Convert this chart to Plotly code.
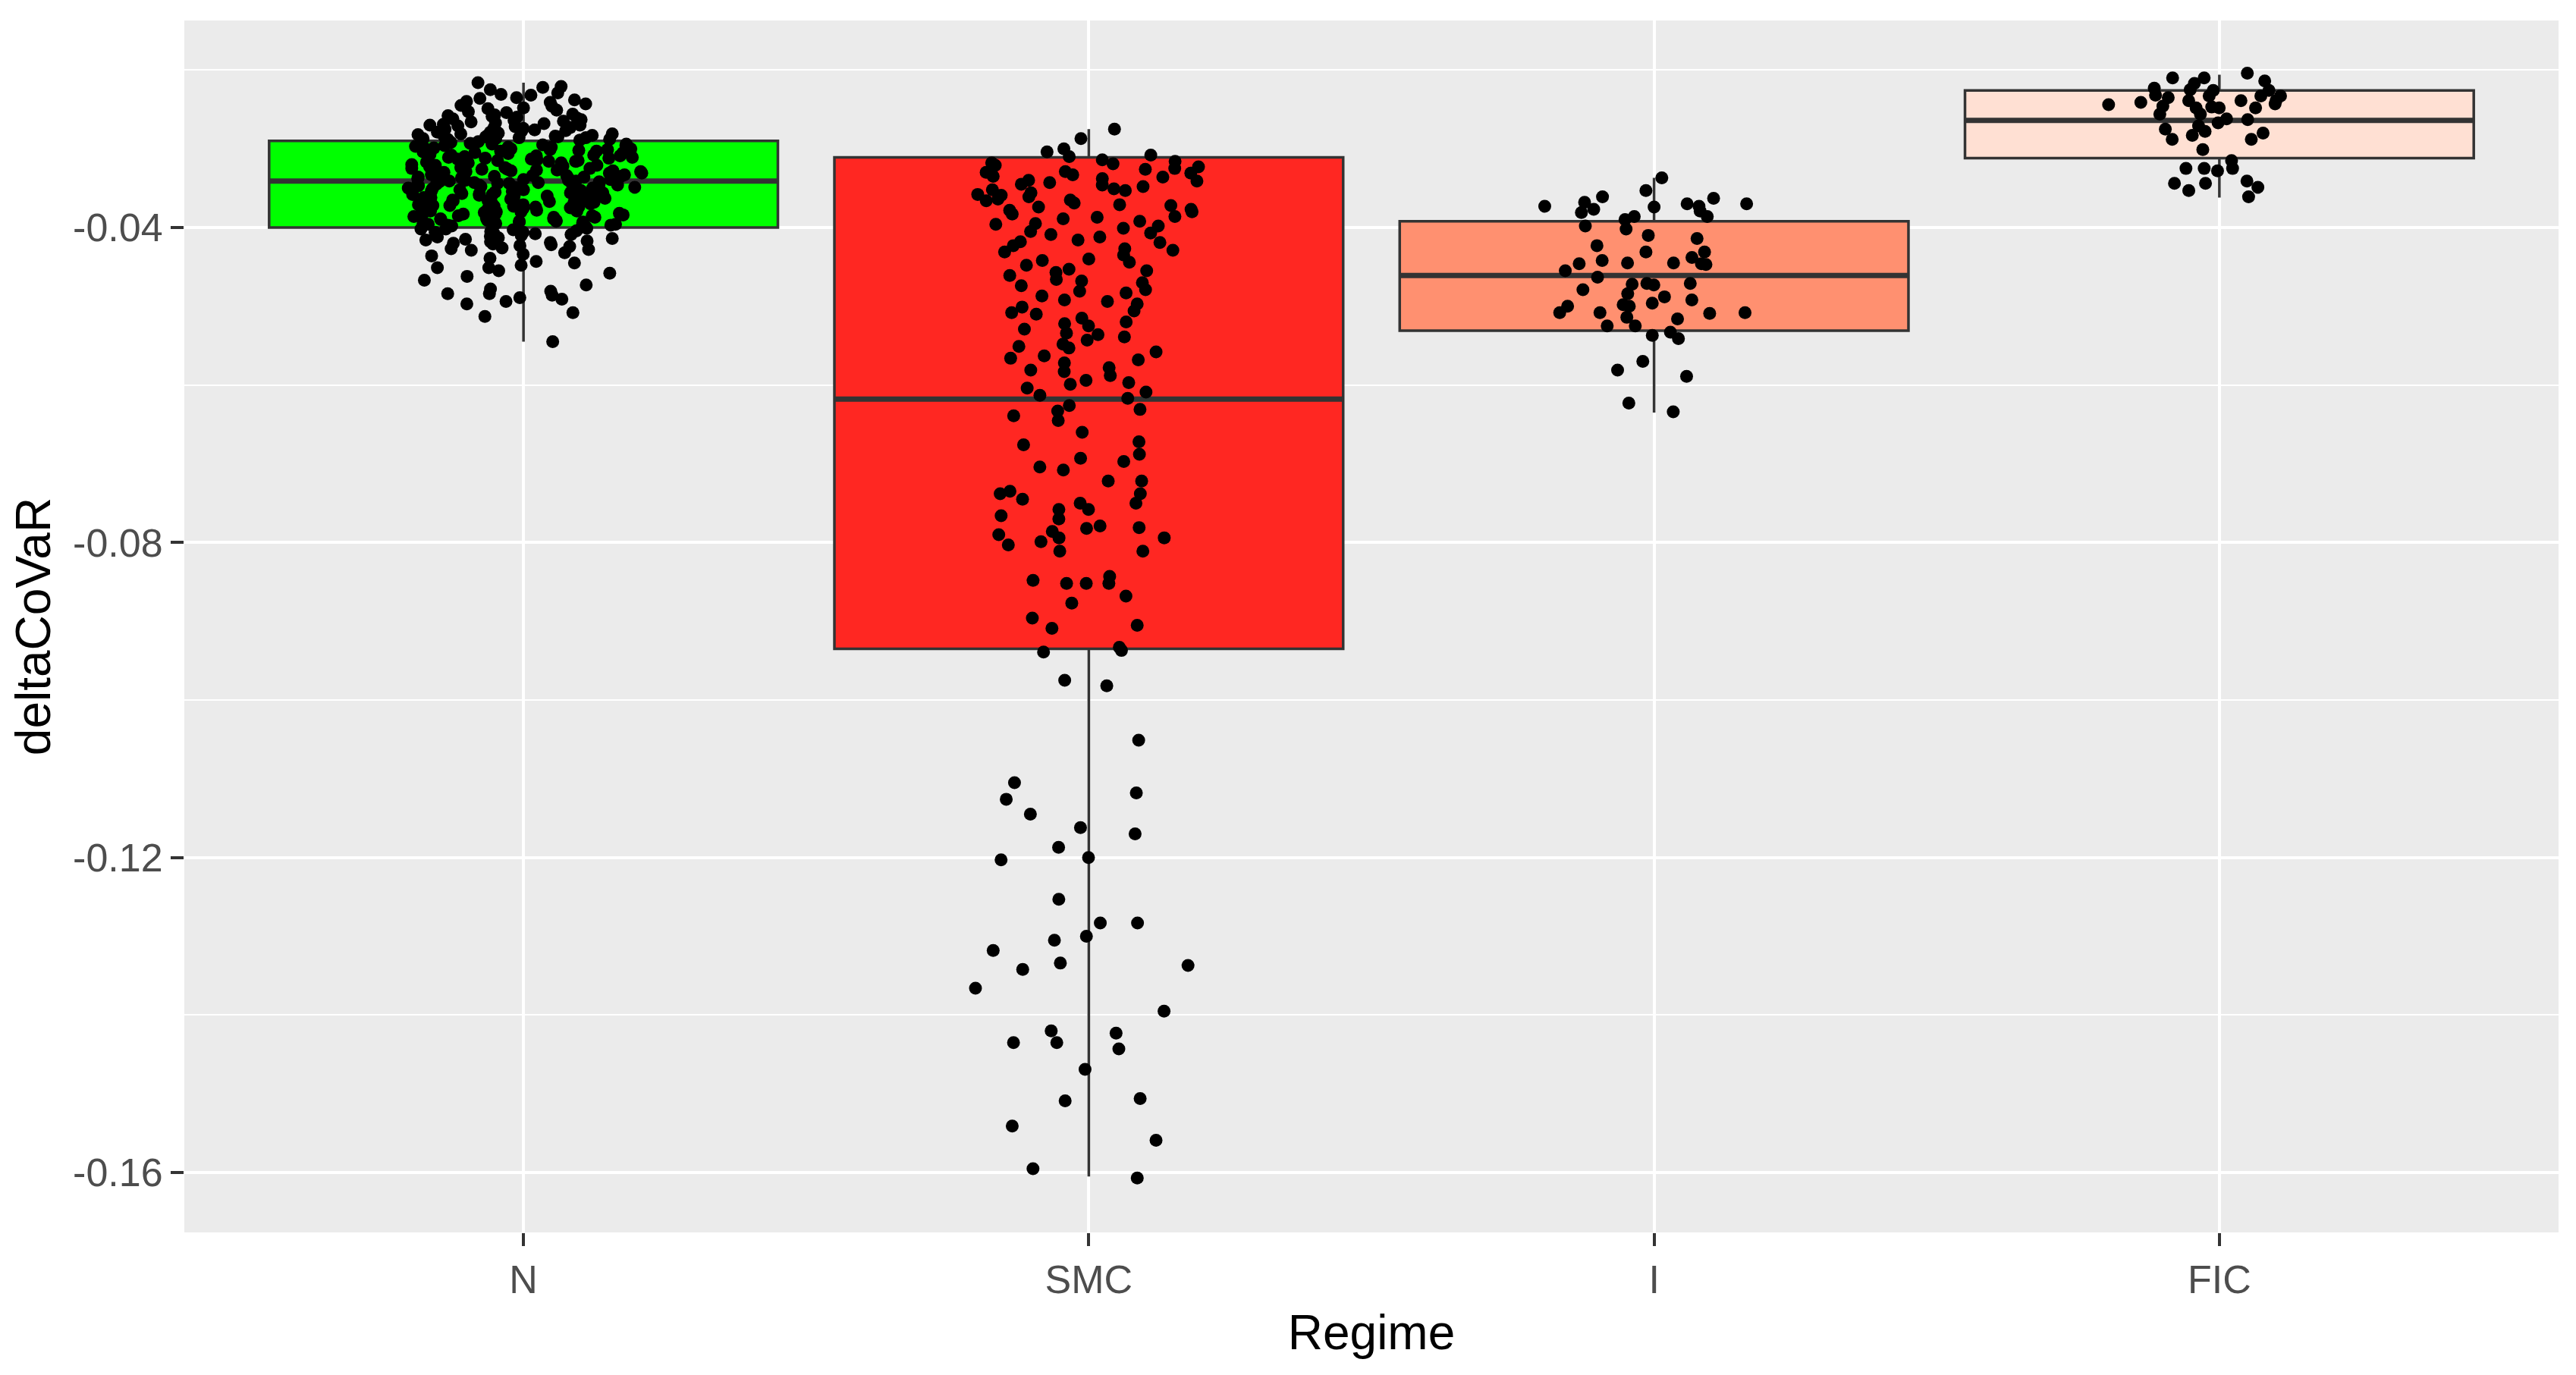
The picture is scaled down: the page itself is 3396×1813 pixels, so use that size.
import plotly.graph_objects as go

# ---------------- data ----------------
categories = ["N", "SMC", "I", "FIC"]

# precomputed box statistics
box_q1 = [-0.0400, -0.0935, -0.0531, -0.0312]
box_median = [-0.0341, -0.0618, -0.0461, -0.0264]
box_q3 = [-0.0290, -0.0311, -0.0392, -0.0226]
box_lower_whisker = [-0.0545, -0.1605, -0.0635, -0.0362]
box_upper_whisker = [-0.0216, -0.0275, -0.0337, -0.0206]

# jittered observations, grouped by regime (and by density band)
n_upper = [-0.0216, -0.0222, -0.0221, -0.0225, -0.0229, -0.0232, -0.0231, -0.0236, -0.0238,
           -0.0235, -0.0241, -0.0243, -0.0240, -0.0246, -0.0248, -0.0245, -0.0251, -0.0249,
           -0.0253, -0.0256, -0.0254, -0.0258, -0.0257, -0.0261, -0.0263, -0.0260, -0.0265,
           -0.0264, -0.0268, -0.0267, -0.0270, -0.0272, -0.0269, -0.0274, -0.0273, -0.0276,
           -0.0278, -0.0275, -0.0279, -0.0281, -0.0280, -0.0283, -0.0282, -0.0285, -0.0284,
           -0.0286, -0.0288, -0.0287, -0.0289, -0.0277, -0.0271, -0.0262, -0.0283, -0.0286,
           -0.0266, -0.0273, -0.0279, -0.0284, -0.0287, -0.0259, -0.0270, -0.0281, -0.0288,
           -0.0276, -0.0268, -0.0285]
n_box = [-0.0291, -0.0294, -0.0292, -0.0297, -0.0299, -0.0296, -0.0302, -0.0298, -0.0305,
         -0.0303, -0.0301, -0.0308, -0.0306, -0.0311, -0.0309, -0.0304, -0.0313, -0.0316,
         -0.0312, -0.0318, -0.0315, -0.0321, -0.0319, -0.0324, -0.0322, -0.0317, -0.0327,
         -0.0325, -0.0329, -0.0323, -0.0332, -0.0330, -0.0335, -0.0328, -0.0337, -0.0334,
         -0.0340, -0.0338, -0.0333, -0.0343, -0.0341, -0.0346, -0.0339, -0.0348, -0.0344,
         -0.0351, -0.0349, -0.0342, -0.0354, -0.0352, -0.0347, -0.0357, -0.0355, -0.0360,
         -0.0353, -0.0362, -0.0358, -0.0365, -0.0363, -0.0356, -0.0368, -0.0366, -0.0371,
         -0.0364, -0.0373, -0.0369, -0.0376, -0.0374, -0.0367, -0.0379, -0.0377, -0.0382,
         -0.0375, -0.0384, -0.0380, -0.0387, -0.0385, -0.0378, -0.0390, -0.0388, -0.0393,
         -0.0386, -0.0395, -0.0391, -0.0398, -0.0396, -0.0389, -0.0399, -0.0294, -0.0307,
         -0.0314, -0.0326, -0.0331, -0.0345, -0.0350, -0.0361, -0.0370, -0.0383, -0.0392,
         -0.0397, -0.0300, -0.0320, -0.0336, -0.0359, -0.0372, -0.0381, -0.0310, -0.0343,
         -0.0366, -0.0394, -0.0295, -0.0329, -0.0352, -0.0378]
n_core = [-0.0293, -0.0298, -0.0303, -0.0306, -0.0311, -0.0315, -0.0319, -0.0324, -0.0327,
          -0.0331, -0.0334, -0.0339, -0.0342, -0.0347, -0.0350, -0.0354, -0.0358, -0.0361,
          -0.0365, -0.0369, -0.0372, -0.0376, -0.0380, -0.0383, -0.0387, -0.0391, -0.0394,
          -0.0398, -0.0296, -0.0301, -0.0309, -0.0313, -0.0318, -0.0322, -0.0326, -0.0333,
          -0.0337, -0.0341, -0.0345, -0.0349, -0.0353, -0.0356, -0.0362, -0.0366, -0.0371,
          -0.0374, -0.0379, -0.0384, -0.0389, -0.0393, -0.0397, -0.0292, -0.0305, -0.0316,
          -0.0325, -0.0336, -0.0344, -0.0357, -0.0364, -0.0375, -0.0386, -0.0396, -0.0299,
          -0.0312, -0.0328, -0.0340, -0.0351, -0.0363, -0.0373, -0.0382, -0.0390, -0.0300,
          -0.0321, -0.0335, -0.0348, -0.0360, -0.0368, -0.0385, -0.0395, -0.0308, -0.0330,
          -0.0346, -0.0377, -0.0392]
n_lower = [-0.0401, -0.0403, -0.0402, -0.0405, -0.0404, -0.0407, -0.0406, -0.0409, -0.0408,
           -0.0411, -0.0413, -0.0410, -0.0415, -0.0414, -0.0418, -0.0416, -0.0419, -0.0421,
           -0.0423, -0.0420, -0.0426, -0.0424, -0.0429, -0.0427, -0.0432, -0.0402, -0.0406,
           -0.0412, -0.0417, -0.0422, -0.0428]
n_tail = [-0.0436, -0.0434, -0.0439, -0.0443, -0.0445, -0.0448, -0.0451, -0.0451, -0.0455,
          -0.0458, -0.0462, -0.0467, -0.0473, -0.0478, -0.0481, -0.0484, -0.0484, -0.0486,
          -0.0489, -0.0491, -0.0494, -0.0497, -0.0508, -0.0513, -0.0545]

smc_upper = [-0.0275, -0.0287, -0.0300, -0.0304, -0.0308, -0.0310,
             -0.0314, -0.0316, -0.0319, -0.0321, -0.0318, -0.0323, -0.0326, -0.0325, -0.0329,
             -0.0331, -0.0333, -0.0330, -0.0336, -0.0338, -0.0335, -0.0341, -0.0343, -0.0340,
             -0.0346, -0.0348, -0.0345, -0.0351, -0.0353, -0.0356, -0.0352, -0.0358, -0.0361,
             -0.0359, -0.0364, -0.0366, -0.0369, -0.0365, -0.0372, -0.0374, -0.0371, -0.0377,
             -0.0380, -0.0383, -0.0378, -0.0386, -0.0389, -0.0392, -0.0387, -0.0395, -0.0398,
             -0.0401, -0.0396, -0.0405, -0.0409, -0.0412, -0.0407, -0.0416, -0.0419, -0.0423,
             -0.0418, -0.0427, -0.0431, -0.0435, -0.0429, -0.0440, -0.0444, -0.0448, -0.0442,
             -0.0453, -0.0457, -0.0461, -0.0455, -0.0466, -0.0470, -0.0474, -0.0468, -0.0479,
             -0.0483, -0.0487, -0.0481, -0.0492, -0.0497, -0.0501, -0.0494, -0.0506, -0.0510,
             -0.0515, -0.0508, -0.0520, -0.0525, -0.0529, -0.0522, -0.0534, -0.0539, -0.0543,
             -0.0536, -0.0548, -0.0553, -0.0558, -0.0551, -0.0563, -0.0568, -0.0572, -0.0566,
             -0.0578, -0.0583, -0.0588, -0.0581, -0.0594, -0.0599, -0.0604, -0.0597, -0.0609,
             -0.0613, -0.0617]
smc_mid = [-0.0626, -0.0631, -0.0633, -0.0639, -0.0645, -0.0660, -0.0672, -0.0676, -0.0688,
           -0.0693, -0.0697, -0.0704, -0.0708, -0.0722, -0.0722, -0.0735, -0.0738, -0.0738,
           -0.0745, -0.0750, -0.0750, -0.0758, -0.0758, -0.0766, -0.0770, -0.0779, -0.0781,
           -0.0782, -0.0786, -0.0790, -0.0794, -0.0794, -0.0799, -0.0803, -0.0811, -0.0811,
           -0.0843, -0.0848, -0.0852, -0.0852, -0.0852, -0.0868, -0.0877, -0.0896, -0.0905,
           -0.0909, -0.0933]
smc_tail = [-0.0937, -0.0939, -0.0975, -0.0982, -0.1051, -0.1105, -0.1118, -0.1126, -0.1145,
            -0.1162, -0.1170, -0.1187, -0.1200, -0.1203, -0.1253, -0.1283, -0.1283, -0.1300,
            -0.1305, -0.1318, -0.1334, -0.1337, -0.1342, -0.1366, -0.1395, -0.1420, -0.1423,
            -0.1435, -0.1435, -0.1443, -0.1469, -0.1506, -0.1509, -0.1541, -0.1559, -0.1595,
            -0.1607]

i_points = [-0.0337, -0.0353, -0.0361, -0.0370, -0.0374, -0.0390, -0.0386, -0.0381, -0.0398,
            -0.0373, -0.0368, -0.0363, -0.0373, -0.0386, -0.0379, -0.0377, -0.0370, -0.0402,
            -0.0410, -0.0414, -0.0431, -0.0423, -0.0438, -0.0445, -0.0445, -0.0447, -0.0446,
            -0.0442, -0.0446, -0.0431, -0.0455, -0.0463, -0.0472, -0.0484, -0.0471, -0.0471,
            -0.0473, -0.0479, -0.0488, -0.0492, -0.0498, -0.0500, -0.0500, -0.0508, -0.0496,
            -0.0516, -0.0509, -0.0508, -0.0514, -0.0525, -0.0508, -0.0525, -0.0537, -0.0533,
            -0.0541, -0.0570, -0.0589, -0.0581, -0.0623, -0.0634]

fic_points = [-0.0204, -0.0214, -0.0223, -0.0232, -0.0210, -0.0210, -0.0217, -0.0225,
              -0.0233, -0.0239, -0.0235, -0.0248, -0.0256, -0.0239, -0.0247, -0.0226,
              -0.0233, -0.0241, -0.0248, -0.0233, -0.0226, -0.0248, -0.0256, -0.0246,
              -0.0239, -0.0244, -0.0243, -0.0263, -0.0262, -0.0267, -0.0283, -0.0278,
              -0.0280, -0.0288, -0.0271, -0.0275, -0.0288, -0.0301, -0.0315, -0.0325,
              -0.0325, -0.0328, -0.0325, -0.0341, -0.0344, -0.0344, -0.0349, -0.0361,
              -0.0353]

point_groups = [
    ("N", n_upper), ("N", n_box), ("N", n_core), ("N", n_lower), ("N", n_tail),
    ("SMC", smc_upper), ("SMC", smc_mid), ("SMC", smc_tail),
    ("I", i_points), ("FIC", fic_points),
]

y_tick_values = [-0.16, -0.12, -0.08, -0.04]
y_tick_labels = ["-0.16", "-0.12", "-0.08", "-0.04"]
y_minor_values = [-0.14, -0.10, -0.06, -0.02]

# ---------------- styles ----------------
fill_colors = ["#00FF00", "#FF2722", "#FF9070", "#FFE0D3"]
LINE = "#333333"
FONT = "Liberation Sans, Arial, sans-serif"

fig = go.Figure()

# boxes (precomputed statistics)
for i, cat in enumerate(categories):
    fig.add_trace(go.Box(
        x=[cat], q1=[box_q1[i]], median=[box_median[i]], q3=[box_q3[i]],
        lowerfence=[box_lower_whisker[i]], upperfence=[box_upper_whisker[i]],
        fillcolor=fill_colors[i], line=dict(color=LINE, width=3.5),
        width=0.9, whiskerwidth=0, boxpoints=False,
        showlegend=False, hoverinfo="skip",
    ))

# thicker median line (ggplot fatten)
for i, cat in enumerate(categories):
    m = box_median[i]
    fig.add_trace(go.Box(
        x=[cat], q1=[m], median=[m], q3=[m], lowerfence=[m], upperfence=[m],
        fillcolor="rgba(0,0,0,0)", line=dict(color=LINE, width=7),
        width=0.9, whiskerwidth=0, boxpoints=False,
        showlegend=False, hoverinfo="skip",
    ))

# jittered points
for cat, vals in point_groups:
    fig.add_trace(go.Box(
        x=[cat] * len(vals), y=vals,
        boxpoints="all", jitter=1, pointpos=0, width=0.42,
        fillcolor="rgba(0,0,0,0)", line=dict(color="rgba(0,0,0,0)", width=0),
        marker=dict(color="black", size=17, line=dict(width=0)),
        showlegend=False, hoverinfo="y",
    ))

fig.update_layout(
    width=3380, height=1797, autosize=False,
    paper_bgcolor="white", plot_bgcolor="#EBEBEB",
    margin=dict(l=235, r=15, t=19, b=180, pad=0),
    boxmode="overlay", showlegend=False,
    font=dict(family=FONT),
    xaxis=dict(
        type="category", categoryorder="array", categoryarray=categories,
        range=[-0.6, 3.6], showgrid=True, gridcolor="white", gridwidth=4,
        zeroline=False, showline=False,
        ticks="outside", ticklen=17, tickwidth=4, tickcolor=LINE,
        tickfont=dict(size=52, color="#4D4D4D", family=FONT),
        title=dict(text="Regime", font=dict(size=64, color="black", family=FONT), standoff=18),
        automargin=False,
    ),
    yaxis=dict(
        range=[-0.1676, -0.01371], tickmode="array",
        tickvals=y_tick_values, ticktext=y_tick_labels,
        showgrid=True, gridcolor="white", gridwidth=4,
        minor=dict(tickmode="array", tickvals=y_minor_values, showgrid=True,
                   gridcolor="white", gridwidth=2, ticks=""),
        zeroline=False, showline=False,
        ticks="outside", ticklen=17, tickwidth=4, tickcolor=LINE,
        tickfont=dict(size=52, color="#4D4D4D", family=FONT),
        title=dict(text="deltaCoVaR", font=dict(size=64, color="black", family=FONT), standoff=20),
        automargin=False,
    ),
)

fig.write_html("out.html")
